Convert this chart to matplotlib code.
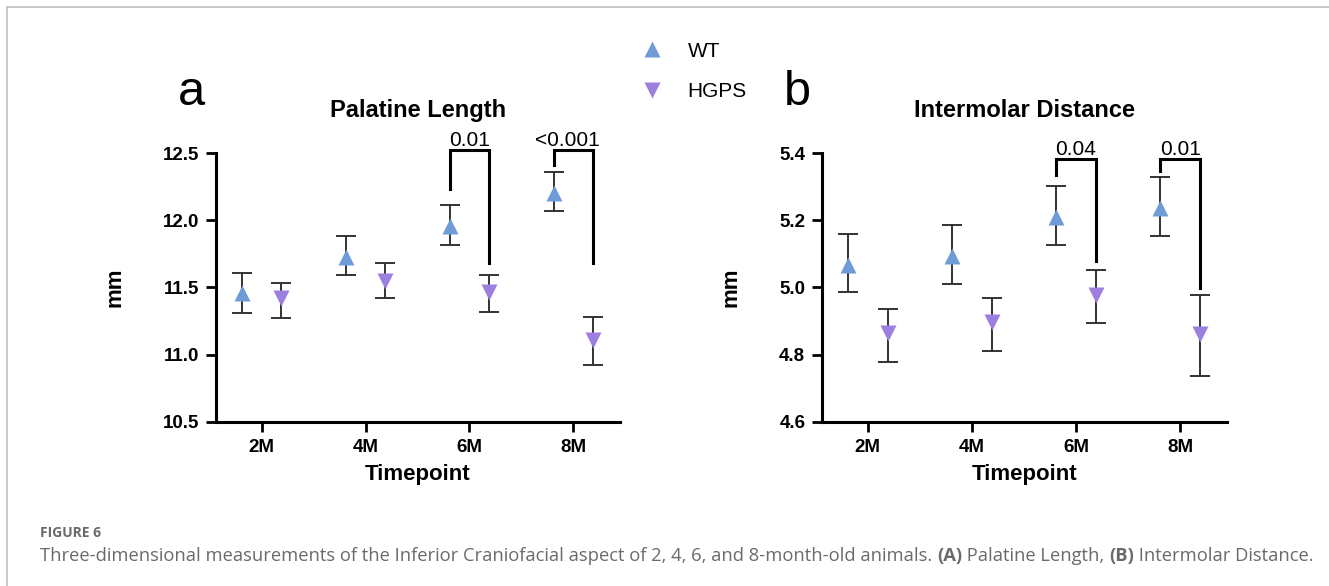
import numpy as np
import matplotlib.pyplot as plt
from matplotlib.lines import Line2D

timepoints = ['2M', '4M', '6M', '8M']

# Palatine length (mm): mean and error bar ends
pal_wt = [11.46, 11.73, 11.955, 12.20]
pal_wt_lo = [11.31, 11.595, 11.815, 12.07]
pal_wt_hi = [11.61, 11.885, 12.11, 12.36]
pal_hg = [11.42, 11.55, 11.47, 11.11]
pal_hg_lo = [11.27, 11.42, 11.32, 10.92]
pal_hg_hi = [11.53, 11.68, 11.59, 11.28]

# Intermolar distance (mm)
im_wt = [5.068, 5.095, 5.21, 5.236]
im_wt_lo = [4.986, 5.01, 5.127, 5.152]
im_wt_hi = [5.16, 5.185, 5.303, 5.328]
im_hg = [4.865, 4.897, 4.979, 4.862]
im_hg_lo = [4.779, 4.812, 4.894, 4.738]
im_hg_hi = [4.937, 4.968, 5.051, 4.979]

# significance brackets: (group index, top, left leg end, right leg end, label)
pal_sig = [(2, 12.525, 12.23, 11.68, '0.01'), (3, 12.525, 12.41, 11.68, '<0.001')]
im_sig = [(2, 5.382, 5.336, 5.078, '0.04'), (3, 5.382, 5.345, 4.999, '0.01')]

c_wt = '#6f9bd6'
c_hg = '#9d7fe0'
off = 0.19

fig = plt.figure(figsize=(13.29, 5.86), dpi=100)
plt.rcParams['font.family'] = ['Liberation Sans', 'DejaVu Sans']


def panel(ax, wt, wlo, whi, hg, hlo, hhi, sig, ylim, yticks, title, letter):
    x = np.arange(len(timepoints))
    wt = np.array(wt); hg = np.array(hg)
    ax.errorbar(x - off, wt, yerr=[wt - np.array(wlo), np.array(whi) - wt], fmt='none',
                ecolor='#333333', elinewidth=1.4, capsize=7, capthick=1.4, zorder=2)
    ax.errorbar(x + off, hg, yerr=[hg - np.array(hlo), np.array(hhi) - hg], fmt='none',
                ecolor='#333333', elinewidth=1.4, capsize=7, capthick=1.4, zorder=2)
    ax.plot(x - off, wt, '^', ms=12, color=c_wt, mec='none', zorder=3)
    ax.plot(x + off, hg, 'v', ms=12, color=c_hg, mec='none', zorder=3)
    for i, top, l, r, lab in sig:
        ax.plot([i - off, i - off, i + off, i + off], [l, top, top, r], color='black',
                lw=2.2, clip_on=False, solid_joinstyle='miter')
        dx = -0.06 if lab.startswith('<') else 0
        ax.text(i + dx, top, lab, ha='center', va='bottom', fontsize=15)
    ax.set_xlim(-0.44, 3.45)
    ax.set_ylim(*ylim)
    ax.set_yticks(yticks)
    ax.set_xticks(x)
    ax.set_xticklabels(timepoints)
    for s in ['top', 'right']:
        ax.spines[s].set_visible(False)
    for s in ['left', 'bottom']:
        ax.spines[s].set_linewidth(2.2)
    ax.tick_params(width=2, length=7, labelsize=13.5, pad=5)
    for t in ax.get_xticklabels() + ax.get_yticklabels():
        t.set_fontweight('bold')
    ax.set_xlabel('Timepoint', fontsize=16, fontweight='bold', labelpad=6)
    ax.set_ylabel('mm', fontsize=16, fontweight='bold', labelpad=27)
    ax.set_title(title, fontsize=17, fontweight='bold', pad=26)
    ax.text(-0.095, 1.14, letter, transform=ax.transAxes, fontsize=35, ha='left', va='bottom')


ax1 = fig.add_axes([0.1625, 0.2799, 0.304, 0.459])
panel(ax1, pal_wt, pal_wt_lo, pal_wt_hi, pal_hg, pal_hg_lo, pal_hg_hi, pal_sig,
      (10.5, 12.5), [10.5, 11.0, 11.5, 12.0, 12.5], 'Palatine Length', 'a')
ax1.set_yticklabels(['10.5', '11.0', '11.5', '12.0', '12.5'])

ax2 = fig.add_axes([0.6185, 0.2799, 0.3047, 0.459])
panel(ax2, im_wt, im_wt_lo, im_wt_hi, im_hg, im_hg_lo, im_hg_hi, im_sig,
      (4.6, 5.4), [4.6, 4.8, 5.0, 5.2, 5.4], 'Intermolar Distance', 'b')
ax2.set_yticklabels(['4.6', '4.8', '5.0', '5.2', '5.4'])

handles = [Line2D([], [], ls='none', marker='^', ms=12, color=c_wt, mec='none'),
           Line2D([], [], ls='none', marker='v', ms=12, color=c_hg, mec='none')]
fig.legend(handles, ['WT', 'HGPS'], loc='center left', bbox_to_anchor=(0.461, 0.878),
           frameon=False, fontsize=15, handletextpad=0.7, labelspacing=1.05)

# open frame lines (top and left)
fig.add_artist(Line2D([7 / 1329, 1], [1 - 7 / 586, 1 - 7 / 586], transform=fig.transFigure,
                      color='#c4c4c4', lw=1.3))
fig.add_artist(Line2D([7 / 1329, 7 / 1329], [0, 1 - 7 / 586], transform=fig.transFigure,
                      color='#c4c4c4', lw=1.3))

cap_font = ['Open Sans', 'DejaVu Sans']
fig.text(40 / 1329, 1 - 533 / 586, 'FIGURE 6', fontsize=10, color='#6a6a6a', fontweight='bold',
         family=cap_font, va='center')
cap = fig.text(40 / 1329, 1 - 556 / 586,
               'Three-dimensional measurements of the Inferior Craniofacial aspect of 2, 4, 6, and 8-month-old animals. ',
               fontsize=13.2, color='#6a6a6a', family=cap_font, va='center')
fig.canvas.draw()
xpos = cap.get_window_extent().x1
parts = [('(A)', 'bold'), (' Palatine Length, ', 'normal'), ('(B)', 'bold'), (' Intermolar Distance.', 'normal')]
for s, w in parts:
    t = fig.text(xpos / fig.bbox.width, 1 - 556 / 586, s, fontsize=13.2, color='#6a6a6a', fontweight=w,
                 family=cap_font, va='center')
    fig.canvas.draw()
    xpos = t.get_window_extent().x1

fig.savefig('out.png', dpi=100)
